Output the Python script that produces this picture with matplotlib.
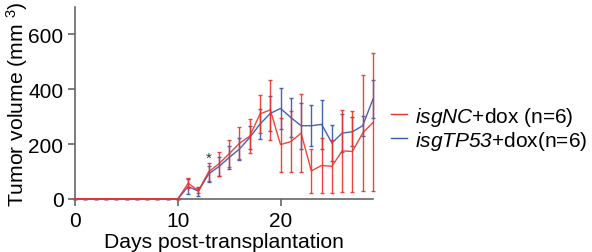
import matplotlib
matplotlib.use("Agg")
import matplotlib.pyplot as plt
from matplotlib.lines import Line2D

plt.rcParams['font.family'] = ['Liberation Sans', 'DejaVu Sans']
plt.rcParams['mathtext.fontset'] = 'custom'
plt.rcParams['mathtext.rm'] = 'Liberation Sans:italic'
plt.rcParams['mathtext.it'] = 'Liberation Sans:italic'
plt.rcParams['mathtext.sf'] = 'Liberation Sans'

days = list(range(0, 30))
nc_mean = [0]*11 + [57, 30, 99, 128, 165, 203, 229, 310, 325, 198, 209, 240, 102, 122, 119, 175, 173, 240, 279]
nc_err = [0]*11 + [18, 10, 32, 43, 50, 58, 62, 70, 110, 99, 110, 143, 80, 100, 97, 150, 149, 212, 252]
tp_mean = [0]*11 + [45, 28, 91, 118, 151, 182, 224, 273, 312, 330, 297, 267, 267, 272, 204, 240, 245, 267, 364]
tp_err = [0]*11 + [27, 16, 30, 35, 43, 41, 42, 56, 64, 76, 70, 84, 74, 90, 66, 68, 53, 36, 70]
labels = [r'$isgNC$+dox (n=6)', r'$isgTP53$+dox(n=6)']
star_day, star_y = 13, 150

red = '#ee3124'
blue = '#3a5bb4'

fig = plt.figure(figsize=(5.92, 2.53), dpi=100)
ax = fig.add_axes([0.127, 0.21, 0.503, 0.758])

for mean, err, col, al, z in [(tp_mean, tp_err, blue, 0.95, 2), (nc_mean, nc_err, red, 0.9, 3)]:
    cont = ax.errorbar(days, mean, yerr=err, color=col, lw=1.0, elinewidth=1.0,
                       capsize=1.6, capthick=1.0, alpha=al, zorder=z)
    for art in cont.lines[1] + cont.lines[2] + (cont.lines[0],):
        art.set_clip_on(False)
ax.text(star_day, star_y, '*', ha='center', va='center', fontsize=11, color='#333333')

ax.set_xlim(0, 29)
ax.set_ylim(0, 700)
ax.set_xticks([0, 10, 20])
ax.set_yticks([0, 200, 400, 600])
for s in ['top', 'right']:
    ax.spines[s].set_visible(False)
for s in ['left', 'bottom']:
    ax.spines[s].set_color('#666666')
    ax.spines[s].set_linewidth(1.2)
ax.tick_params(colors='#666666', labelcolor='black', labelsize=15, length=5, width=1.2)
ax.set_xlabel('Days post-transplantation', fontsize=15.2, labelpad=2)
ax.set_ylabel(r'Tumor volume (mm $^{\mathsf{3}}$)', fontsize=15.2, labelpad=-1.5)

handles = [Line2D([], [], color=red, lw=1.0), Line2D([], [], color=blue, lw=1.0)]
fig.legend(handles, labels, loc='center left', bbox_to_anchor=(0.66, 0.49),
           frameon=False, fontsize=15, handlelength=0.8, handletextpad=0.35,
           labelspacing=0.05, borderaxespad=0, borderpad=0)

fig.savefig('out.png', dpi=100)
